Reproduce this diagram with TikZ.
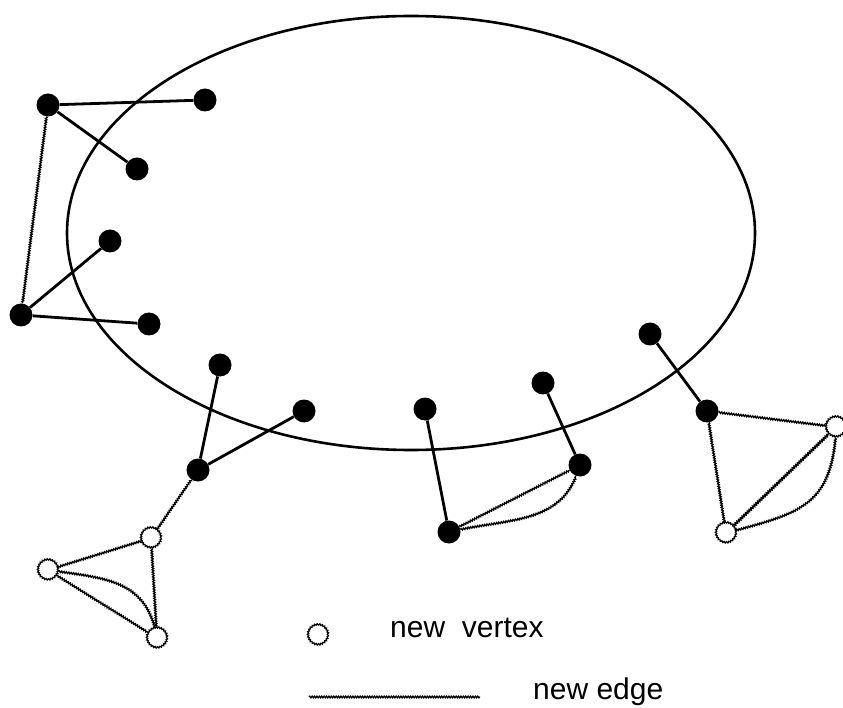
\documentclass[tikz,border=0pt]{standalone}
\usepackage{fontspec}
\setmainfont{Liberation Sans}
\usetikzlibrary{decorations.pathmorphing}
\begin{document}
\begin{tikzpicture}[x=1pt,y=-1pt,
  vtx/.style={circle,fill=black,minimum size=23pt,inner sep=0pt},
  nvtx/.style={circle,draw,fill=white,minimum size=20pt,inner sep=0pt,line width=1.2pt,
    decorate,decoration={snake,amplitude=0.7pt,segment length=2.5pt}},
  old/.style={line width=2.8pt},
  nedge/.style={line width=1.3pt,decorate,decoration={snake,amplitude=0.8pt,segment length=2.4pt}},
  lbl/.style={inner sep=0pt,anchor=base west,font=\fontsize{30}{35}\selectfont}]
\useasboundingbox (0,0) rectangle (843,708);
\draw[line width=2.6pt] (411,233) ellipse [x radius=344, y radius=217];
% old vertices
\node[vtx] (A) at (48,105) {};
\node[vtx] (B) at (205,100) {};
\node[vtx] (C) at (137,169) {};
\node[vtx] (D) at (110,241) {};
\node[vtx] (E) at (21,315) {};
\node[vtx] (F) at (149,324) {};
\node[vtx] (G) at (220,365) {};
\node[vtx] (H) at (304,411) {};
\node[vtx] (I) at (198,470) {};
\node[vtx] (M) at (425,409) {};
\node[vtx] (N) at (449,532) {};
\node[vtx] (O) at (543,383) {};
\node[vtx] (P) at (580,465) {};
\node[vtx] (Q) at (650,334) {};
\node[vtx] (R) at (707,411) {};
% new vertices
\node[nvtx] (J) at (151,538) {};
\node[nvtx] (K) at (48,570) {};
\node[nvtx] (L) at (157,638) {};
\node[nvtx] (S) at (836,427) {};
\node[nvtx] (T) at (726,533) {};
% old edges
\draw[old] (A) -- (B);
\draw[old] (A) -- (C);
\draw[old] (E) -- (D);
\draw[old] (E) -- (F);
\draw[old] (I) -- (G);
\draw[old] (I) -- (H);
\draw[old] (M) -- (N);
\draw[old] (O) -- (P);
\draw[old] (Q) -- (R);
% new edges
\draw[nedge] (A) -- (E);
\draw[nedge] (I) -- (J);
\draw[nedge] (J) -- (K);
\draw[nedge] (J) -- (L);
\draw[nedge] (K) -- (L);
\draw[nedge] (K) to[out=-8,in=105,looseness=1.1] (L);
\draw[nedge] (N) -- (P);
\draw[nedge] (N) to[out=12,in=-111] (P);
\draw[nedge] (R) -- (S);
\draw[nedge] (R) -- (T);
\draw[nedge,line width=1.7pt] (T) -- (S);
\draw[nedge] (T) to[out=15,in=-95,looseness=1.25] (S);
% legend
\node[nvtx] (LV) at (318,635) {};
\node[lbl] (t1) at (390,637) {new\ \ vertex};
\coordinate (l1) at (309,697);
\coordinate (l2) at (480,697);
\draw[nedge] (l1) -- (l2);
\node[lbl] (t2) at (533,699) {new edge};
\end{tikzpicture}
\end{document}
